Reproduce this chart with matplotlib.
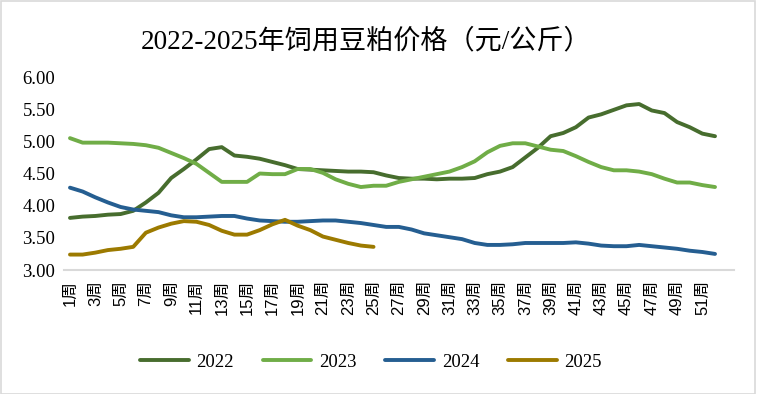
import numpy as np
import matplotlib
matplotlib.use('Agg')
from matplotlib import pyplot as plt
from matplotlib.patches import Rectangle

plt.rcParams['font.family'] = ['Liberation Serif', 'Noto Sans CJK SC', 'DejaVu Sans']

weeks = np.arange(1, 53)
week_labels = [f'{w}周' for w in range(1, 52, 2)]

y2022 = [3.81, 3.83, 3.84, 3.86, 3.87, 3.92, 4.05, 4.20, 4.43, 4.57,
         4.72, 4.88, 4.91, 4.78, 4.76, 4.73, 4.68, 4.63, 4.57, 4.56,
         4.55, 4.54, 4.53, 4.53, 4.52, 4.47, 4.43, 4.42, 4.42, 4.41,
         4.42, 4.42, 4.43, 4.49, 4.53, 4.60, 4.75, 4.90, 5.08, 5.13,
         5.22, 5.37, 5.42, 5.49, 5.56, 5.58, 5.48, 5.44, 5.30, 5.22,
         5.12, 5.08]
y2023 = [5.05, 4.98, 4.98, 4.98, 4.97, 4.96, 4.94, 4.90, 4.82, 4.74,
         4.65, 4.51, 4.37, 4.37, 4.37, 4.50, 4.49, 4.49, 4.57, 4.57,
         4.51, 4.41, 4.34, 4.29, 4.31, 4.31, 4.37, 4.41, 4.45, 4.49,
         4.53, 4.60, 4.69, 4.83, 4.93, 4.97, 4.97, 4.92, 4.87, 4.85,
         4.77, 4.68, 4.60, 4.55, 4.55, 4.53, 4.49, 4.42, 4.36, 4.36,
         4.32, 4.29]
y2024 = [4.28, 4.22, 4.13, 4.05, 3.98, 3.94, 3.92, 3.90, 3.85, 3.82,
         3.82, 3.83, 3.84, 3.84, 3.80, 3.77, 3.76, 3.75, 3.75, 3.76,
         3.77, 3.77, 3.75, 3.73, 3.70, 3.67, 3.67, 3.63, 3.57, 3.54,
         3.51, 3.48, 3.42, 3.39, 3.39, 3.40, 3.42, 3.42, 3.42, 3.42,
         3.43, 3.41, 3.38, 3.37, 3.37, 3.39, 3.37, 3.35, 3.33, 3.30,
         3.28, 3.25]
y2025 = [3.24, 3.24, 3.27, 3.31, 3.33, 3.36, 3.58, 3.66, 3.72, 3.76,
         3.75, 3.70, 3.61, 3.55, 3.55, 3.62, 3.71, 3.78, 3.69, 3.62,
         3.52, 3.47, 3.42, 3.38, 3.36]

series = [('2022', y2022, '#476D2E'),
          ('2023', y2023, '#70AD47'),
          ('2024', y2024, '#255E91'),
          ('2025', y2025, '#9C7A00')]

fig = plt.figure(figsize=(7.57, 3.94), dpi=100)
ax = fig.add_axes([0.0841, 0.3147, 0.8855, 0.4898])

for name, vals, col in series:
    ax.plot(weeks[:len(vals)], vals, color=col, lw=2.8, label=name,
            solid_capstyle='round', solid_joinstyle='round')

ax.set_xlim(0.5, 53.5)
ax.set_ylim(3, 6)
ax.set_yticks(np.arange(3, 6.01, 0.5))
ax.set_yticklabels([f'{v:.2f}' for v in np.arange(3, 6.01, 0.5)], fontsize=13.5)
ax.set_xticks(np.arange(1, 52, 2))
ax.set_xticklabels(week_labels, rotation=90, fontsize=12,
                   family=['Liberation Sans', 'Noto Sans CJK SC'])
ax.tick_params(length=0, pad=6)
ax.tick_params(axis='x', pad=7)
for s in ['top', 'right', 'left']:
    ax.spines[s].set_visible(False)
ax.spines['bottom'].set_color('#D9D9D9')
ax.spines['bottom'].set_linewidth(1.5)

fig.text(0.484, 0.895, '2022-2025年饲用豆粕价格（元/公斤）', ha='center', va='center',
         fontsize=19.5, family=['Liberation Serif', 'Noto Sans CJK SC'])

fig.legend(loc='center', bbox_to_anchor=(0.49, 0.08), ncol=4, frameon=False,
           fontsize=13.5, handlelength=2.6, columnspacing=1.55, handletextpad=0.4)

fig.patches.append(Rectangle((0.001, 0.001), 0.997, 0.997, transform=fig.transFigure,
                             fill=False, edgecolor='#D9D9D9', lw=1.2))

fig.savefig('out.png', dpi=100)
